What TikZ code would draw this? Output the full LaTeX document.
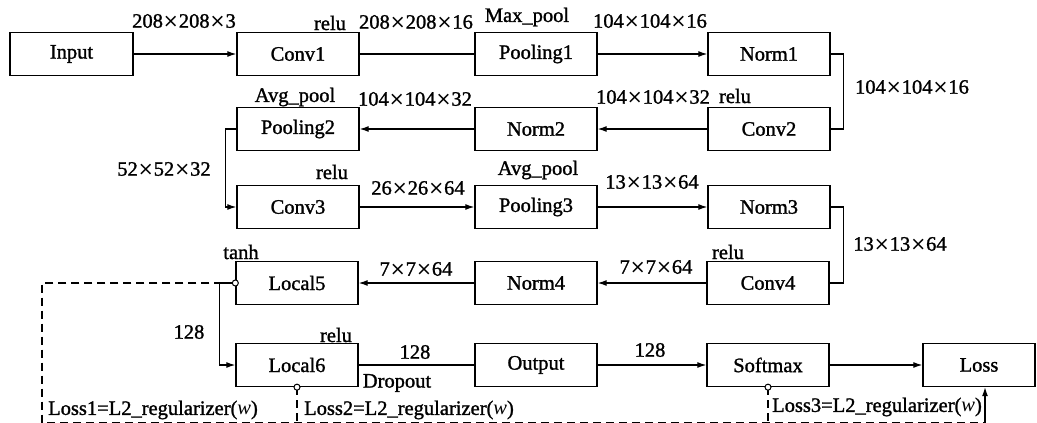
\documentclass[tikz,border=0pt]{standalone}
\usepackage{fontspec}
\setmainfont{Liberation Serif}[AutoFakeBold=1.3]
\newfontfamily\djfont{DejaVu Sans}
\usetikzlibrary{arrows.meta}
\newcommand{\X}{{\djfont\mdseries\fontsize{19}{24}\selectfont ×}}
\begin{document}
\begin{tikzpicture}[x=1pt,y=-1pt,
  font=\fontsize{20.5}{24}\selectfont\bfseries,
  box/.style={draw, line width=1.3pt, minimum width=122pt, minimum height=43pt, inner sep=0pt},
  conn/.style={line width=1.2pt},
  arr/.style={conn, -{Latex[length=9pt,width=6pt]}},
  dashline/.style={line width=1.1pt, dash pattern=on 8pt off 5pt},
  lbl/.style={inner sep=0pt},
  circ/.style={draw, circle, line width=1pt, minimum size=6pt, inner sep=0pt, fill=white}]
\useasboundingbox (0,0) rectangle (1037,423);
% boxes
\node[box, minimum width=123pt] (Input) at (71.5,54) {Input};
\node[box] (Conv1) at (298,54) {Conv1};
\node[box] (Pooling1) at (536,54) {Pooling1};
\node[box] (Norm1) at (769,54) {Norm1};
\node[box] (Pooling2) at (298,129) {Pooling2};
\node[box] (Norm2) at (536,129) {Norm2};
\node[box] (Conv2) at (769,129) {Conv2};
\node[box] (Conv3) at (298,207) {Conv3};
\node[box] (Pooling3) at (536,207) {Pooling3};
\node[box] (Norm3) at (769,207) {Norm3};
\node[box] (Local5) at (297,283) {Local5};
\node[box] (Norm4) at (536,283) {Norm4};
\node[box] (Conv4) at (768,283) {Conv4};
\node[box] (Local6) at (297,365) {Local6};
\node[box] (Output) at (536,365) {Output};
\node[box] (Softmax) at (768,365) {Softmax};
\node[box, minimum width=112pt] (Loss) at (979,365) {Loss};
% connectors
\draw[arr] (Input) -- (Conv1);
\draw[conn] (Conv1) -- (Pooling1);
\draw[arr] (Pooling1) -- (Norm1);
\draw[conn] (Norm1.east) -- ++(13,0) |- (Conv2.east);
\draw[arr] (Conv2) -- (Norm2);
\draw[arr] (Norm2) -- (Pooling2);
\draw[arr] (Pooling2.west) -- ++(-11,0) |- (Conv3.west);
\draw[arr] (Conv3) -- (Pooling3);
\draw[arr] (Pooling3) -- (Norm3);
\draw[conn] (Norm3.east) -- ++(13,0) |- (Conv4.east);
\draw[arr] (Conv4) -- (Norm4);
\draw[arr] (Norm4) -- (Local5);
\draw[arr] (Local5.west) -- ++(-16,0) |- (Local6.west);
\draw[conn] (Local6) -- (Output);
\draw[arr] (Output) -- (Softmax);
\draw[arr] (Softmax) -- (Loss);
% regularizer paths
\coordinate (bl) at (42,422.5);
\coordinate (br) at (985,422.5);
\coordinate (b2) at (297,422.5);
\coordinate (b3) at (768,422.5);
\draw[dashline] (Local5.west) -- ++(-16,0) -- (bl |- Local5.west) -- (bl) -- (br);
\draw[dashline] (Local6.south) -- (b2);
\draw[dashline] (Softmax.south) -- (b3);
\draw[arr] (br) -- (br |- Loss.south);
\node[circ] (c5) at (Local5.west) {};
\node[circ] (c6) at (Local6.south) {};
\node[circ] (cs) at (Softmax.south) {};
% labels
\node[lbl] (l1) at (184,21) {208\X208\X3};
\node[lbl] (l2) at (330,23) {relu};
\node[lbl] (l3) at (416,22) {208\X208\X16};
\node[lbl] (l4) at (527,17) {Max\_pool};
\node[lbl] (l5) at (650,21) {104\X104\X16};
\node[lbl] (l6) at (912,87) {104\X104\X16};
\node[lbl] (l7) at (295,97) {Avg\_pool};
\node[lbl] (l8) at (415,99) {104\X104\X32};
\node[lbl] (l9) at (653,97) {104\X104\X32};
\node[lbl] (l10) at (735,96) {relu};
\node[lbl] (l11) at (164,169) {52\X52\X32};
\node[lbl] (l12) at (332,172) {relu};
\node[lbl] (l13) at (418,188) {26\X26\X64};
\node[lbl] (l14) at (538,170) {Avg\_pool};
\node[lbl] (l15) at (652,182) {13\X13\X64};
\node[lbl] (l16) at (900,244) {13\X13\X64};
\node[lbl] (l17) at (241,252) {tanh};
\node[lbl] (l18) at (416,269) {7\X7\X64};
\node[lbl] (l19) at (656,267) {7\X7\X64};
\node[lbl] (l20) at (728,252) {relu};
\node[lbl] (l21) at (189,332) {128};
\node[lbl] (l22) at (336,335) {relu};
\node[lbl] (l23) at (415,352) {128};
\node[lbl] (l24) at (397,383) {Dropout};
\node[lbl] (l25) at (650,350) {128};
\node[lbl, anchor=west] (l26) at (48,410) {Loss1=L2\_regularizer(\textit{w})};
\node[lbl, anchor=west] (l27) at (304,410) {Loss2=L2\_regularizer(\textit{w})};
\node[lbl, anchor=west] (l28) at (772,407) {Loss3=L2\_regularizer(\textit{w})};
\end{tikzpicture}
\end{document}
